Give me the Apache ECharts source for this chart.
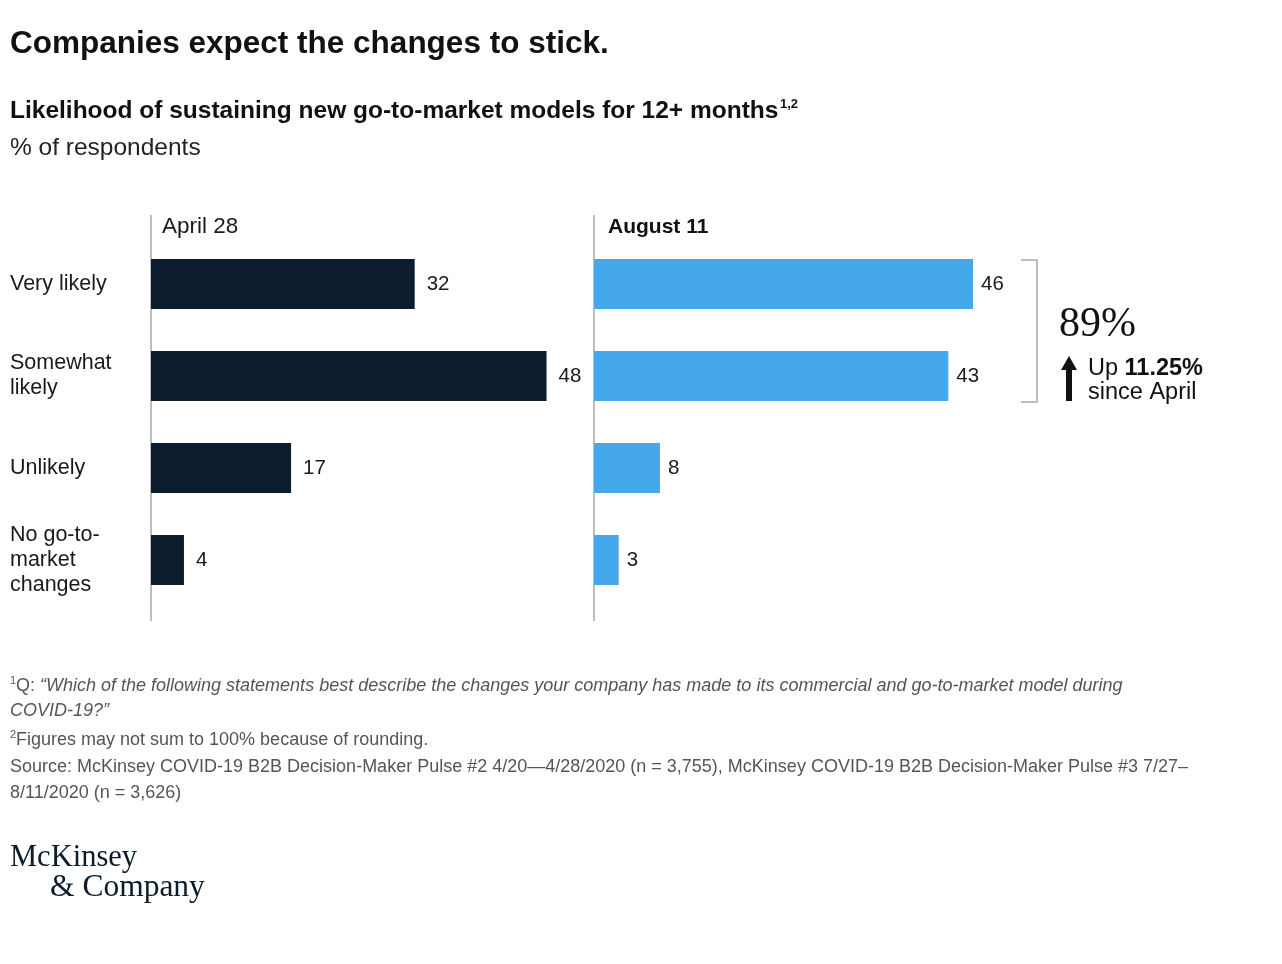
<!DOCTYPE html>
<html>
<head>
<meta charset="utf-8">
<script src="https://cdn.jsdelivr.net/npm/echarts@6/dist/echarts.min.js"></script>
<style>
html,body{margin:0;padding:0;background:#fff;}
#chart{width:1282px;height:964px;}
</style>
</head>
<body>
<div id="chart"></div>
<script>
const categories = ['Very likely', 'Somewhat\nlikely', 'Unlikely', 'No go-to-\nmarket\nchanges'];
const april = [32, 48, 17, 4];
const august = [46, 43, 8, 3];
const periodLabels = ['April 28', 'August 11'];
const totalLabel = '89%';
const changeLabel = '11.25%';

const FONT = '"Liberation Sans", Arial, sans-serif';
const SERIF = '"Liberation Serif", "DejaVu Serif", serif';
const DARK = '#0b1c2c';
const BLUE = '#45a8ea';
const TXT = '#1a1a1a';
const NOTE = '#555555';

const chart = echarts.init(document.getElementById('chart'));

function txt(x, y, text, font, fill, extra) {
  return {
    type: 'text', x: x, y: y,
    style: Object.assign({ text: text, font: font, fill: fill || TXT, textVerticalAlign: 'middle' }, extra || {})
  };
}

const noteFont = '18px ' + FONT;
const noteItalic = 'italic 18px ' + FONT;

const option = {
  backgroundColor: '#fff',
  animation: false,
  grid: [
    { left: 151, top: 238, width: 412, height: 368 },
    { left: 594, top: 238, width: 412, height: 368 }
  ],
  xAxis: [
    { gridIndex: 0, type: 'value', min: 0, max: 50, show: false },
    { gridIndex: 1, type: 'value', min: 0, max: 50, show: false }
  ],
  yAxis: [
    {
      gridIndex: 0, type: 'category', data: categories, inverse: true,
      axisLine: { show: false }, axisTick: { show: false }, splitLine: { show: false },
      axisLabel: { align: 'left', margin: 141, fontFamily: FONT, fontSize: 21.5, color: TXT, lineHeight: 25 }
    },
    {
      gridIndex: 1, type: 'category', data: categories, inverse: true,
      axisLine: { show: false }, axisTick: { show: false }, splitLine: { show: false },
      axisLabel: { show: false }
    }
  ],
  series: [
    {
      type: 'bar', xAxisIndex: 0, yAxisIndex: 0, data: april, barWidth: 50,
      itemStyle: { color: DARK },
      label: { show: true, position: 'right', distance: 12, fontFamily: FONT, fontSize: 20.5, color: TXT }
    },
    {
      type: 'bar', xAxisIndex: 1, yAxisIndex: 1, data: august, barWidth: 50,
      itemStyle: { color: BLUE },
      label: { show: true, position: 'right', distance: 8, fontFamily: FONT, fontSize: 20.5, color: TXT }
    }
  ],
  graphic: [
    txt(10, 44, 'Companies expect the changes to stick.', 'bold 31.5px ' + FONT, '#111'),
    txt(10, 111, 'Likelihood of sustaining new go-to-market models for 12+ months', 'bold 24.5px ' + FONT, '#111'),
    txt(780, 104, '1,2', 'bold 13px ' + FONT, '#111'),
    txt(10, 148, '% of respondents', '24.5px ' + FONT, '#222'),
    // axis lines
    { type: 'line', shape: { x1: 151, y1: 215, x2: 151, y2: 621 }, style: { stroke: '#a8a8a8', lineWidth: 1.5 } },
    { type: 'line', shape: { x1: 594, y1: 215, x2: 594, y2: 621 }, style: { stroke: '#a8a8a8', lineWidth: 1.5 } },
    txt(162, 227, periodLabels[0], '22.5px ' + FONT, TXT),
    txt(608, 227, periodLabels[1], 'bold 21px ' + FONT, '#111'),
    // bracket
    { type: 'polyline', shape: { points: [[1021, 260], [1037, 260], [1037, 402], [1021, 402]] }, style: { stroke: '#a8a8a8', lineWidth: 1.5, fill: null } },
    txt(1059, 325, totalLabel, '42px ' + SERIF, '#111'),
    // arrow
    { type: 'polygon', shape: { points: [[1061, 370], [1069, 356], [1077, 370], [1072, 370], [1072, 401], [1066, 401], [1066, 370]] }, style: { fill: '#111' } },
    {
      type: 'text', x: 1088, y: 369,
      style: {
        text: '{a|Up }{b|' + changeLabel + '}', textVerticalAlign: 'middle',
        rich: { a: { font: '23.5px ' + FONT, fill: '#111' }, b: { font: 'bold 23.5px ' + FONT, fill: '#111' } }
      }
    },
    txt(1088, 393, 'since April', '23.5px ' + FONT, '#111'),
    // footnotes
    txt(10, 681, '1', '11px ' + FONT, NOTE),
    {
      type: 'text', x: 16, y: 686,
      style: {
        text: '{n|Q: }{i|\u201cWhich of the following statements best describe the changes your company has made to its commercial and go-to-market model during}',
        textVerticalAlign: 'middle',
        rich: { n: { font: noteFont, fill: NOTE }, i: { font: noteItalic, fill: NOTE } }
      }
    },
    txt(10, 711, 'COVID-19?\u201d', noteItalic, NOTE),
    txt(10, 735, '2', '11px ' + FONT, NOTE),
    txt(16, 740, 'Figures may not sum to 100% because of rounding.', noteFont, NOTE),
    txt(10, 767, 'Source: McKinsey COVID-19 B2B Decision-Maker Pulse #2 4/20\u20144/28/2020 (n = 3,755), McKinsey COVID-19 B2B Decision-Maker Pulse #3 7/27\u2013', noteFont, NOTE),
    txt(10, 793, '8/11/2020 (n = 3,626)', noteFont, NOTE),
    // logo
    txt(10, 858, 'McKinsey', '30.5px ' + SERIF, DARK),
    txt(50, 888, '& Company', '31.5px ' + SERIF, DARK)
  ]
};
chart.setOption(option);
</script>
</body>
</html>
